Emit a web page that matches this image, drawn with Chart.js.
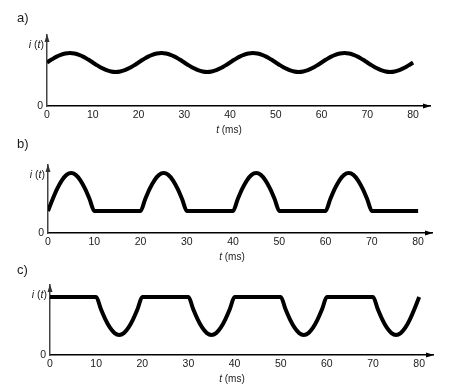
<!DOCTYPE html>
<html>
<head>
<meta charset="utf-8">
<script src="https://cdn.jsdelivr.net/npm/chart.js@4.4.0/dist/chart.umd.min.js"></script>
<style>
    html, body { margin: 0; padding: 0; background: #fff; }
    #wrap { position: relative; width: 455px; height: 392px; }
    #wrap canvas { position: absolute; left: 0; top: 0; }
</style>
</head>
<body>
<div id="wrap">
    <canvas id="chart_a" width="455" height="392"></canvas>
    <canvas id="chart_b" width="455" height="392"></canvas>
    <canvas id="chart_c" width="455" height="392"></canvas>
</div>
<script>
// time samples (ms) and axis labels
var time_ms = [0, 1, 2, 3, 4, 5, 6, 7, 8, 9, 10, 11, 12, 13, 14, 15, 16, 17, 18, 19,
    20, 21, 22, 23, 24, 25, 26, 27, 28, 29, 30, 31, 32, 33, 34, 35, 36, 37, 38, 39,
    40, 41, 42, 43, 44, 45, 46, 47, 48, 49, 50, 51, 52, 53, 54, 55, 56, 57, 58, 59,
    60, 61, 62, 63, 64, 65, 66, 67, 68, 69, 70, 71, 72, 73, 74, 75, 76, 77, 78, 79, 80];
var tick_labels = [0, 10, 20, 30, 40, 50, 60, 70, 80];
var panel_letters = ["a)", "b)", "c)"];

// a) sine riding on a dc level
var current_a = [6.13, 6.54, 6.92, 7.21, 7.40, 7.47, 7.40, 7.21, 6.92, 6.54, 6.13, 5.72, 5.34, 5.05, 4.86, 4.79, 4.86, 5.05, 5.34, 5.72,
    6.13, 6.54, 6.92, 7.21, 7.40, 7.47, 7.40, 7.21, 6.92, 6.54, 6.13, 5.72, 5.34, 5.05, 4.86, 4.79, 4.86, 5.05, 5.34, 5.72,
    6.13, 6.54, 6.92, 7.21, 7.40, 7.47, 7.40, 7.21, 6.92, 6.54, 6.13, 5.72, 5.34, 5.05, 4.86, 4.79, 4.86, 5.05, 5.34, 5.72,
    6.13, 6.54, 6.92, 7.21, 7.40, 7.47, 7.40, 7.21, 6.92, 6.54, 6.13, 5.72, 5.34, 5.05, 4.86, 4.79, 4.86, 5.05, 5.34, 5.72, 6.13];

// b) positive half waves on a floor
var current_b = [3.24, 4.96, 6.52, 7.75, 8.55, 8.82, 8.55, 7.75, 6.52, 4.96, 3.24, 3.24, 3.24, 3.24, 3.24, 3.24, 3.24, 3.24, 3.24, 3.24,
    3.24, 4.96, 6.52, 7.75, 8.55, 8.82, 8.55, 7.75, 6.52, 4.96, 3.24, 3.24, 3.24, 3.24, 3.24, 3.24, 3.24, 3.24, 3.24, 3.24,
    3.24, 4.96, 6.52, 7.75, 8.55, 8.82, 8.55, 7.75, 6.52, 4.96, 3.24, 3.24, 3.24, 3.24, 3.24, 3.24, 3.24, 3.24, 3.24, 3.24,
    3.24, 4.96, 6.52, 7.75, 8.55, 8.82, 8.55, 7.75, 6.52, 4.96, 3.24, 3.24, 3.24, 3.24, 3.24, 3.24, 3.24, 3.24, 3.24, 3.24, 3.24];

// c) negative half waves under a ceiling
var current_c = [8.29, 8.29, 8.29, 8.29, 8.29, 8.29, 8.29, 8.29, 8.29, 8.29, 8.29, 6.61, 5.10, 3.90, 3.13, 2.86, 3.13, 3.90, 5.10, 6.61,
    8.29, 8.29, 8.29, 8.29, 8.29, 8.29, 8.29, 8.29, 8.29, 8.29, 8.29, 6.61, 5.10, 3.90, 3.13, 2.86, 3.13, 3.90, 5.10, 6.61,
    8.29, 8.29, 8.29, 8.29, 8.29, 8.29, 8.29, 8.29, 8.29, 8.29, 8.29, 6.61, 5.10, 3.90, 3.13, 2.86, 3.13, 3.90, 5.10, 6.61,
    8.29, 8.29, 8.29, 8.29, 8.29, 8.29, 8.29, 8.29, 8.29, 8.29, 8.29, 6.61, 5.10, 3.90, 3.13, 2.86, 3.13, 3.90, 5.10, 6.61, 8.29];

var FONT = "'Liberation Sans', Arial, sans-serif";
var TEXT_COLOR = "#1a1a1a";

// draw a row of text pieces, some italic
function drawMixed(ctx, parts, x, y, size, align) {
    var total = 0;
    parts.forEach(function (p) {
        ctx.font = (p[1] ? "italic " : "") + size + "px " + FONT;
        total += ctx.measureText(p[0]).width;
    });
    var cx = align === "right" ? x - total : (align === "center" ? x - total / 2 : x);
    ctx.textAlign = "left";
    parts.forEach(function (p) {
        ctx.font = (p[1] ? "italic " : "") + size + "px " + FONT;
        ctx.fillText(p[0], cx, y);
        cx += ctx.measureText(p[0]).width;
    });
}

// arrows, panel letter, axis names
var panelDecor = {
    id: "panelDecor",
    afterDraw: function (chart, args, opts) {
        var ctx = chart.ctx;
        var area = chart.chartArea;
        ctx.save();
        ctx.fillStyle = "#333";
        ctx.beginPath();
        ctx.moveTo(area.left, area.top - 1);
        ctx.lineTo(area.left - 2.5, area.top + 7);
        ctx.lineTo(area.left + 2.5, area.top + 7);
        ctx.fill();
        ctx.fillStyle = "#000";
        ctx.beginPath();
        ctx.moveTo(area.right + 1, area.bottom);
        ctx.lineTo(area.right - 7, area.bottom - 2.5);
        ctx.lineTo(area.right - 7, area.bottom + 2.5);
        ctx.fill();

        ctx.fillStyle = TEXT_COLOR;
        ctx.textBaseline = "middle";
        ctx.font = "13px " + FONT;
        ctx.textAlign = "left";
        ctx.fillText(opts.letter, opts.letterX, opts.letterY);
        drawMixed(ctx, [["i", true], [" (", false], ["t", true], [")", false]], area.left - 3, area.top + 10, 10.5, "right");
        drawMixed(ctx, [["t", true], [" (ms)", false]], opts.titleX, area.bottom + 24, 10, "center");
        ctx.restore();
    }
};

function makePanel(canvasId, values, box, letter) {
    return new Chart(document.getElementById(canvasId), {
        type: "line",
        data: {
            datasets: [{
                data: time_ms.map(function (t, i) { return { x: t, y: values[i] }; }),
                borderColor: "#000",
                borderWidth: 4,
                borderJoinStyle: "round",
                pointRadius: 0,
                cubicInterpolationMode: "monotone",
                fill: false,
            }],
        },
        options: {
            responsive: false,
            animation: false,
            events: [],
            layout: {
                padding: { left: 0, top: box.top, right: 455 - box.right, bottom: 392 - box.bottom - 20 },
            },
            plugins: {
                legend: { display: false },
                tooltip: { enabled: false },
                panelDecor: { letter: letter, letterX: box.letterX, letterY: box.letterY, titleX: box.titleX },
            },
            scales: {
                x: {
                    type: "linear",
                    min: 0,
                    max: box.xMax,
                    grid: { display: false, drawTicks: false },
                    border: { display: true, color: "#000", width: 1.5 },
                    afterBuildTicks: function (scale) {
                        scale.ticks = tick_labels.map(function (v) { return { value: v }; });
                    },
                    afterFit: function (scale) { scale.height = 20; },
                    ticks: {
                        padding: 3,
                        maxRotation: 0,
                        color: TEXT_COLOR,
                        font: { family: FONT, size: 10.5 },
                    },
                },
                y: {
                    type: "linear",
                    min: 0,
                    max: 10,
                    grid: { display: false, drawTicks: false },
                    border: { display: true, color: "#444", width: 1.5 },
                    afterBuildTicks: function (scale) {
                        scale.ticks = [{ value: 0 }];
                    },
                    afterFit: function (scale) { scale.width = box.left; },
                    ticks: {
                        padding: 4,
                        color: TEXT_COLOR,
                        font: { family: FONT, size: 10.5 },
                    },
                },
            },
        },
        plugins: [panelDecor],
    });
}

var chartA = makePanel("chart_a", current_a,
    { left: 47, right: 430, top: 35, bottom: 106, xMax: 83.7, letterX: 17, letterY: 18, titleX: 229 }, panel_letters[0]);
var chartB = makePanel("chart_b", current_b,
    { left: 48, right: 432, top: 165, bottom: 233, xMax: 83.0, letterX: 17, letterY: 144, titleX: 232 }, panel_letters[1]);
var chartC = makePanel("chart_c", current_c,
    { left: 50, right: 433, top: 285, bottom: 355, xMax: 83.0, letterX: 17, letterY: 270, titleX: 232 }, panel_letters[2]);
</script>
</body>
</html>
